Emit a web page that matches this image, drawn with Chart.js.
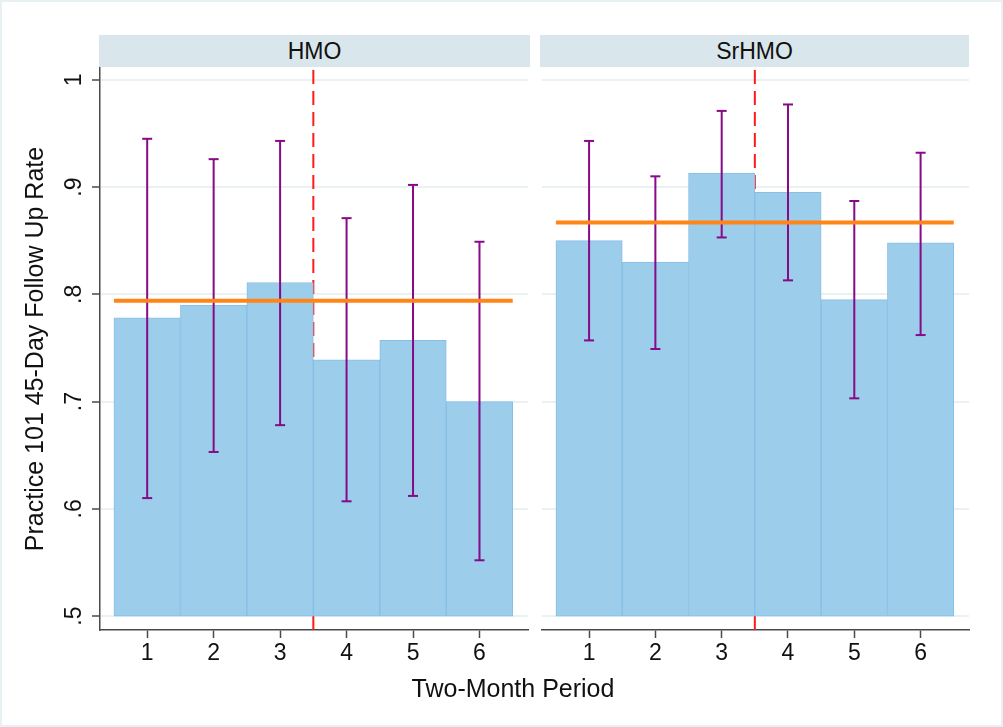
<!DOCTYPE html>
<html lang="en">
<head>
<meta charset="utf-8">
<title>Practice 101 45-Day Follow Up Rate</title>
<script src="https://cdn.jsdelivr.net/npm/chart.js"></script>
<style>
  body { margin: 0; background: #fff; font-family: "Liberation Sans", Arial, sans-serif; }
  #page { position: relative; width: 1003px; height: 727px; overflow: hidden; box-shadow: inset 0 0 0 2px #e9f0f3; }
  canvas { position: absolute; top: 0; }
  #cHmo { left: 0; }
  #cSr { left: 535px; }
  .strip { position: absolute; top: 35px; height: 32px; line-height: 32px; background: #d9e6eb;
           text-align: center; font-size: 23px; color: #111; }
  #xtitle { position: absolute; left: 300px; width: 426px; top: 673px; line-height: 30px;
            text-align: center; font-size: 25px; color: #111; }
</style>
</head>
<body>
<div id="page">
  <canvas id="cHmo" width="535" height="727"></canvas>
  <canvas id="cSr" width="468" height="727"></canvas>
  <div class="strip" style="left:99px;width:431px;">HMO</div>
  <div class="strip" style="left:540px;width:429px;">SrHMO</div>
  <div id="xtitle">Two-Month Period</div>
</div>

<script>
  // periods and tick labels
  const periods = [1, 2, 3, 4, 5, 6];
  const yTicks = [0.5, 0.6, 0.7, 0.8, 0.9, 1.0];
  const barBase = 0.5;
  const cutoff = 3.5;

  // HMO panel
  const hmoRate = [0.778, 0.790, 0.811, 0.739, 0.757, 0.700];
  const hmoLow  = [0.610, 0.653, 0.678, 0.607, 0.612, 0.552];
  const hmoHigh = [0.945, 0.926, 0.943, 0.871, 0.902, 0.849];
  const hmoMean = 0.794;

  // SrHMO panel
  const srRate = [0.850, 0.830, 0.913, 0.895, 0.795, 0.848];
  const srLow  = [0.757, 0.749, 0.853, 0.813, 0.703, 0.762];
  const srHigh = [0.943, 0.910, 0.971, 0.977, 0.887, 0.932];
  const srMean = 0.867;

  const yMin = 0.487, yMax = 1.011;
  const xMin = 0.29, xMax = 6.73;

  const FONT = '"Liberation Sans", Arial, sans-serif';
  const axisColor = '#4a4a4a';
  const gridColor = '#eaf1f3';

  function makePanel(id, rate, low, high, mean, isLeft) {
    const errData = [];
    periods.forEach((p, i) => {
      errData.push({ x: p, y: low[i] });
      errData.push({ x: p, y: high[i] });
      errData.push({ x: p, y: null });
    });

    const ctx = document.getElementById(id).getContext('2d');
    return new Chart(ctx, {
      type: 'bar',
      data: {
        datasets: [
          {
            type: 'line',
            data: [{ x: cutoff, y: yMin }, { x: cutoff, y: yMax }],
            borderColor: '#ff1a1a',
            borderWidth: 2,
            borderDash: [14, 7],
            pointRadius: 0,
            order: 4
          },
          {
            type: 'bar',
            data: periods.map((p, i) => ({ x: p, y: [barBase, rate[i]] })),
            backgroundColor: '#9ccdea',
            borderColor: '#86bfe6',
            borderWidth: 1,
            borderSkipped: false,
            barPercentage: 1,
            categoryPercentage: 1,
            order: 3
          },
          {
            type: 'line',
            data: errData,
            borderColor: '#870a87',
            borderWidth: 2,
            spanGaps: false,
            pointStyle: 'line',
            pointRadius: 5,
            pointBorderWidth: 2,
            pointBorderColor: '#870a87',
            order: 2
          },
          {
            type: 'line',
            data: [{ x: barBase, y: mean }, { x: periods.length + 0.5, y: mean }],
            borderColor: '#ff8516',
            borderWidth: 4,
            pointRadius: 0,
            order: 1
          }
        ]
      },
      options: {
        responsive: false,
        animation: false,
        layout: { padding: { top: 68, right: isLeft ? 5 : 34, left: 0, bottom: 0 } },
        plugins: { legend: { display: false }, tooltip: { enabled: false } },
        scales: {
          x: {
            type: 'linear',
            min: xMin,
            max: xMax,
            offset: false,
            afterBuildTicks: s => { s.ticks = periods.map(v => ({ value: v })); },
            afterFit: s => { s.height = 97; },
            grid: { display: true, offset: false, drawOnChartArea: false, tickLength: 8,
                    tickColor: axisColor, tickWidth: 1.5 },
            border: { display: true, color: axisColor, width: 1.5 },
            ticks: { color: '#111', font: { family: FONT, size: 23 }, padding: 2 }
          },
          y: {
            min: yMin,
            max: yMax,
            afterBuildTicks: s => { s.ticks = yTicks.map(v => ({ value: v })); },
            afterFit: s => { s.width = isLeft ? 100 : 5; },
            grid: { color: gridColor, lineWidth: 2, drawTicks: isLeft, tickLength: 8,
                    tickColor: axisColor, tickWidth: 1.5 },
            border: { display: isLeft, color: axisColor, width: 1.5 },
            ticks: {
              display: isLeft,
              color: '#111',
              font: { family: FONT, size: 23 },
              padding: 8,
              minRotation: 90,
              maxRotation: 90,
              crossAlign: 'center',
              callback: v => (v >= 1 ? '1' : v.toFixed(1).replace(/^0/, ''))
            },
            title: {
              display: isLeft,
              text: 'Practice 101 45-Day Follow Up Rate',
              color: '#111',
              font: { family: FONT, size: 25 },
              padding: { top: 21, bottom: 0 }
            }
          }
        }
      }
    });
  }

  makePanel('cHmo', hmoRate, hmoLow, hmoHigh, hmoMean, true);
  makePanel('cSr', srRate, srLow, srHigh, srMean, false);
</script>
</body>
</html>
